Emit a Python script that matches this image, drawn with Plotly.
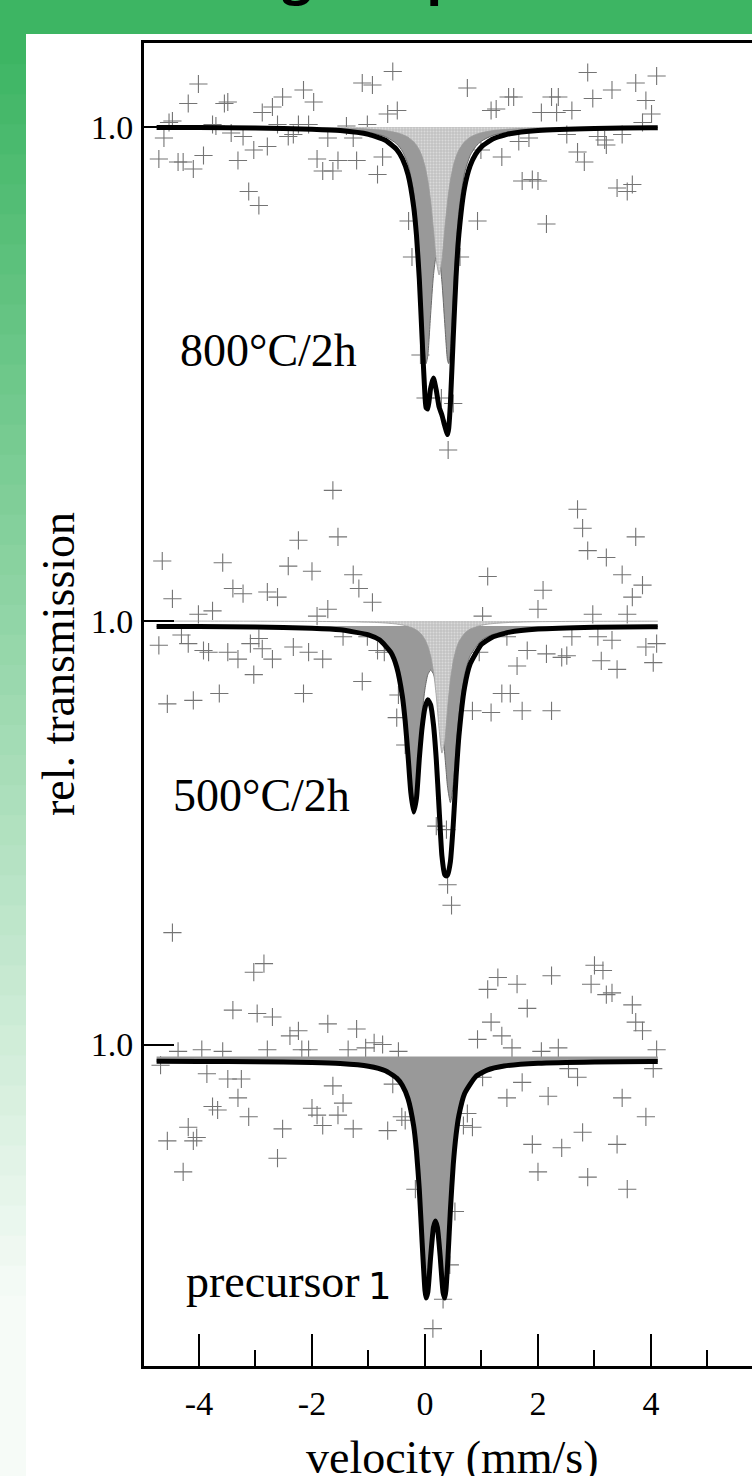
import plotly.graph_objects as go

# ---------------- data ----------------
# velocity grid of the fitted curves, mm/s
top_fit_v = [-4.75, -4.0, -3.0, -2.0, -1.5, -1.0, -0.7, -0.5, -0.4, -0.3, -0.2, -0.15, -0.1, -0.05,
             0.0, 0.02, 0.05, 0.1, 0.15, 0.2, 0.25, 0.3, 0.35, 0.4, 0.42, 0.45, 0.5, 0.55, 0.6,
             0.7, 0.8, 0.9, 1.0, 1.2, 1.5, 2.0, 3.0, 4.0, 4.12]
top_fit_total = [0.99992, 0.99988, 0.99980, 0.99956, 0.99928, 0.99852, 0.99734, 0.99548, 0.99366, 0.99048,
                 0.98404, 0.97828, 0.96954, 0.95752, 0.94618, 0.94384, 0.94360, 0.94776, 0.94978, 0.94736,
                 0.94400, 0.94238, 0.94022, 0.93848, 0.93972, 0.94472, 0.95788, 0.97002, 0.97852, 0.98786,
                 0.99226, 0.99462, 0.99604, 0.99760, 0.99864, 0.99930, 0.99972, 0.99984, 0.99986]
top_fit_doublet = [0.99994, 0.99992, 0.99986, 0.99970, 0.99949, 0.99895, 0.99806, 0.99662, 0.99516, 0.99252,
                   0.98700, 0.98192, 0.97414, 0.96344, 0.95402, 0.95268, 0.95426, 0.96256, 0.97028, 0.97400,
                   0.97360, 0.96902, 0.96072, 0.95328, 0.95268, 0.95538, 0.96572, 0.97594, 0.98312, 0.99082,
                   0.99430, 0.99612, 0.99718, 0.99832, 0.99906, 0.99952, 0.99981, 0.99990, 0.99990]
top_fit_singlet = [0.99998, 0.99996, 0.99994, 0.99987, 0.99978, 0.99958, 0.99928, 0.99886, 0.99850, 0.99796,
                   0.99704, 0.99636, 0.99540, 0.99408, 0.99216, 0.99116, 0.98934, 0.98520, 0.97950, 0.97336,
                   0.97040, 0.97336, 0.97950, 0.98520, 0.98704, 0.98934, 0.99216, 0.99408, 0.99540, 0.99704,
                   0.99796, 0.99850, 0.99886, 0.99928, 0.99958, 0.99978, 0.99991, 0.99995, 0.99996]

mid_fit_v = [-4.75, -4.0, -3.0, -2.0, -1.5, -1.0, -0.8, -0.6, -0.5, -0.4, -0.35, -0.3, -0.25, -0.2, -0.15,
             -0.1, -0.05, 0.0, 0.05, 0.1, 0.15, 0.2, 0.25, 0.3, 0.35, 0.375, 0.4, 0.45, 0.5, 0.55, 0.6,
             0.7, 0.8, 1.0, 1.2, 1.5, 2.0, 3.0, 4.0, 4.12]
mid_fit_total = [0.99892, 0.99889, 0.99880, 0.99856, 0.99823, 0.99724, 0.99618, 0.99364, 0.99076, 0.98494,
                 0.97994, 0.97310, 0.96566, 0.96180, 0.96460, 0.97250, 0.97876, 0.98268, 0.98426, 0.98322,
                 0.97932, 0.97230, 0.96248, 0.95298, 0.94924, 0.94902, 0.94924, 0.95188, 0.95922, 0.96876,
                 0.97688, 0.98670, 0.99142, 0.99532, 0.99680, 0.99778, 0.99838, 0.99875, 0.99887, 0.99887]
mid_fit_doublet = [0.99894, 0.99891, 0.99884, 0.99864, 0.99836, 0.99749, 0.99652, 0.99414, 0.99138, 0.98574,
                   0.98086, 0.97418, 0.96692, 0.96330, 0.96642, 0.97476, 0.98162, 0.98640, 0.98926, 0.99018,
                   0.98940, 0.98730, 0.98410, 0.97940, 0.97338, 0.96996, 0.96676, 0.96368, 0.96726, 0.97444,
                   0.98104, 0.98918, 0.99304, 0.99616, 0.99732, 0.99807, 0.99853, 0.99881, 0.99890, 0.99890]
mid_fit_singlet = [0.99998, 0.99998, 0.99996, 0.99992, 0.99987, 0.99976, 0.99967, 0.99951, 0.99938, 0.99920,
                   0.99908, 0.99892, 0.99874, 0.99850, 0.99818, 0.99774, 0.99714, 0.99628, 0.99500, 0.99304,
                   0.98992, 0.98500, 0.97838, 0.97358, 0.97586, 0.97906, 0.98248, 0.98820, 0.99196, 0.99432,
                   0.99584, 0.99752, 0.99838, 0.99916, 0.99948, 0.99971, 0.99986, 0.99994, 0.99997, 0.99997]

bot_fit_v = [-4.75, -4.0, -3.0, -2.0, -1.5, -1.0, -0.7, -0.5, -0.4, -0.3, -0.2, -0.15, -0.1, -0.05,
             0.0, 0.02, 0.05, 0.1, 0.15, 0.185, 0.22, 0.27, 0.3, 0.32, 0.35, 0.37, 0.4, 0.45, 0.5, 0.55,
             0.6, 0.7, 0.9, 1.1, 1.4, 2.0, 3.0, 4.0, 4.12]
bot_fit_total = [0.99664, 0.99662, 0.99656, 0.99640, 0.99619, 0.99565, 0.99475, 0.99328, 0.99182, 0.98916,
                 0.98366, 0.97862, 0.97090, 0.96032, 0.95080, 0.94928, 0.95042, 0.95750, 0.96338, 0.96468,
                 0.96338, 0.95750, 0.95288, 0.95042, 0.94928, 0.95080, 0.95592, 0.96694, 0.97592, 0.98190,
                 0.98580, 0.99016, 0.99360, 0.99488, 0.99570, 0.99626, 0.99652, 0.99660, 0.99661]

# measured points (crosses)
top_data_v = [-4.01, -4.19, -3.55, -3.49, -2.88, -2.70, -2.52, -2.15, -1.97, -1.11, -0.93, -0.57, -0.66, -0.49,
              0.75, 1.17, 1.26, 1.48, 1.57, 2.06, 2.24, 2.36, 2.33, 2.60, 2.88, 2.97, 3.31, 3.73, 3.91, 4.10,
              4.01, 3.85, -4.53, -4.47, -4.62, -3.76, -3.70, -3.43, -3.22, -2.61, -2.42, -2.33, -2.24, -2.06,
              -1.72, -1.39, -1.27, -1.02, 2.51, 3.06, 3.18, 3.49, 1.66, 1.84, -4.71, -4.37, -4.28, -4.10,
              -3.92, -3.31, -3.03, -2.79, -3.12, -2.94, -1.91, -1.81, -1.63, -1.54, -1.21, -0.84, -0.75,
              0.99, 1.36, 1.72, 1.90, 2.00, 2.15, 2.70, 2.82, 3.21, 3.40, 3.58, 3.67, -0.29, -0.23, 0.62,
              0.93, -0.08, 0.01, 0.29, 0.50, 0.41]
top_data_t = [1.0086, 1.0047, 1.0047, 1.0050, 1.0029, 1.0040, 1.0060, 1.0074, 1.0050, 1.0088, 1.0084, 1.0111,
              1.0026, 1.0033, 1.0078, 1.0033, 1.0036, 1.0060, 1.0060, 1.0029, 1.0060, 1.0060, 1.0029, 1.0033,
              1.0109, 1.0057, 1.0074, 1.0088, 1.0053, 1.0102, 1.0026, 1.0009, 1.0009, 1.0012, 0.9978, 1.0005,
              1.0002, 0.9988, 0.9981, 1.0005, 0.9981, 0.9985, 1.0005, 1.0005, 0.9978, 1.0002, 0.9978, 1.0005,
              0.9985, 0.9981, 0.9974, 0.9985, 0.9971, 0.9978, 0.9936, 0.9930, 0.9930, 0.9916, 0.9943, 0.9933,
              0.9954, 0.9961, 0.9871, 0.9843, 0.9936, 0.9912, 0.9912, 0.9933, 0.9933, 0.9905, 0.9940, 0.9954,
              0.9940, 0.9892, 0.9895, 0.9892, 0.9806, 0.9950, 0.9930, 0.9964, 0.9878, 0.9871, 0.9885, 0.9812,
              0.9740, 0.9740, 0.9812, 0.9544, 0.9458, 0.9458, 0.9447, 0.9354]

mid_data_v = [-1.63, 2.70, 2.79, -1.54, -2.24, 3.73, -4.65, -3.58, -2.42, -2.00, 2.88, 3.21, -1.27, -1.17,
              1.11, 3.49, 3.85, -3.40, -3.22, -2.79, -2.61, -4.47, -0.93, 2.09, 3.67, 2.00, -1.72, -1.91,
              -4.01, -3.76, 1.02, 2.97, 3.58, -4.31, -4.19, -4.71, -3.92, -3.83, -3.49, -3.31, -3.09, -2.94,
              -2.88, -2.70, -2.33, -2.06, -1.81, -1.45, -1.02, -0.84, -0.72, -3.03, -3.64, -4.10, -4.56,
              -2.15, -1.11, 0.96, 1.45, 1.81, 2.15, 2.42, 2.51, 2.60, 3.06, 3.31, 3.12, 3.40, 3.91, 4.10,
              4.04, 1.63, 1.36, 1.51, 0.84, 1.17, 1.72, 2.24, -0.50, -0.47, -0.35, 0.20, 0.38, 0.40, 0.47]
mid_data_t = [1.02612, 1.02234, 1.01856, 1.01682, 1.01614, 1.01682, 1.01200, 1.01166, 1.01098, 1.00994,
              1.01408, 1.01270, 1.00926, 1.00650, 1.00890, 1.00926, 1.00718, 1.00650, 1.00546, 1.00580,
              1.00478, 1.00444, 1.00374, 1.00616, 1.00478, 1.00236, 1.00236, 1.00098, 1.00134, 1.00202,
              1.00098, 1.00134, 1.00134, 0.99720, 0.99548, 0.99514, 0.99410, 0.99376, 0.99376, 0.99238,
              0.99548, 0.99650, 0.99444, 0.99238, 0.99480, 0.99376, 0.99238, 0.99686, 0.99686, 0.99410,
              0.99376, 0.98928, 0.98550, 0.98412, 0.98342, 0.98550, 0.98790, 0.99376, 0.99686, 0.99410,
              0.99342, 0.99272, 0.99306, 0.99686, 0.99686, 0.99616, 0.99204, 0.99032, 0.99480, 0.99548,
              0.99168, 0.99100, 0.98550, 0.98550, 0.98204, 0.98170, 0.98204, 0.98204, 0.98068, 0.98520,
              0.97520, 0.95898, 0.95828, 0.94726, 0.94314]

bot_data_v = [-4.47, -3.03, -2.85, 1.29, 1.11, 1.63, 2.24, 3.00, 3.15, 2.94, 3.21, 3.31, 1.81, 3.67, -3.40,
              -2.97, -2.70, -1.72, -1.21, -2.39, -2.24, 1.17, 0.93, 1.36, 1.54, 3.73, 3.85, 4.10, 2.06, 2.36,
              -4.37, -3.95, -3.58, -2.79, -2.18, -2.06, -1.36, -1.05, -0.90, -0.75, -0.47, -4.68, 2.54, 2.70,
              4.04, -3.86, -3.49, -3.25, -1.63, -0.57, 1.02, 1.72, -3.31, -3.76, -3.67, -3.12, -2.00, -1.45,
              -1.91, -1.54, -1.81, -1.27, -0.66, -0.41, -0.35, 0.75, 0.68, 0.84, 1.45, 2.18, 3.49, 3.91, 2.79,
              -4.19, -4.56, -4.10, -4.04, -2.52, -2.61, -4.28, 1.90, 2.42, 3.40, 2.00, 2.88, 3.58, -0.17, 0.53,
              0.44, 0.32, 0.14]
bot_data_t = [1.02238, 1.01446, 1.01618, 1.01340, 1.01102, 1.01206, 1.01376, 1.01584, 1.01480, 1.01206,
              1.00998, 1.01032, 1.00722, 1.00792, 1.00688, 1.00620, 1.00550, 1.00412, 1.00310, 1.00172,
              1.00274, 1.00448, 1.00102, 1.00172, 0.99932, 1.00448, 1.00274, 0.99896, 0.99862, 0.99932,
              0.99862, 0.99896, 0.99862, 0.99896, 0.99896, 0.99896, 0.99896, 0.99932, 1.00034, 1.00000,
              0.99862, 0.99586, 0.99518, 0.99346, 0.99518, 0.99414, 0.99310, 0.99310, 0.99172, 0.99208,
              0.99346, 0.99242, 0.98932, 0.98760, 0.98690, 0.98554, 0.98726, 0.98828, 0.98588, 0.98588,
              0.98380, 0.98312, 0.98278, 0.98554, 0.98484, 0.98620, 0.98380, 0.98346, 0.98932, 0.98966,
              0.98932, 0.98554, 0.98244, 0.98346, 0.98072, 0.98072, 0.98140, 0.98312, 0.97726, 0.97452,
              0.98002, 0.97934, 0.98002, 0.97452, 0.97348, 0.97106, 0.97106, 0.96660, 0.95592, 0.94904,
              0.94318]

# vertical offsets of the stacked spectra and the baselines of the filled sub-spectra
offset_top, offset_mid, offset_bot = 0.0, 0.0988, 0.1835
base_top_doublet, base_top_singlet = 1.0, 1.0
base_mid_doublet, base_mid_singlet = 0.999, 1.0
base_bot_doublet = 0.9976

sample_labels = ["800°C/2h", "500°C/2h", "precursor"]
compound_no = "1"
y_tick_text = "1.0"
x_major = [-4, -2, 0, 2, 4]
x_minor = [-3, -1, 1, 3, 5]

# ---------------- figure geometry ----------------
W, H = 752, 1476
ML, MT, MB = 144, 43, 110
PW, PH = W - ML, H - MT - MB


def px(xp):
    return (xp - ML) / PW


def py(yp):
    return (H - MB - yp) / PH


SERIF = "Liberation Serif"


def sh(vals, off):
    return [v - off for v in vals]


fig = go.Figure()

# crosses (drawn beneath the fits)
for v, t, off in [(top_data_v, top_data_t, offset_top),
                  (mid_data_v, mid_data_t, offset_mid),
                  (bot_data_v, bot_data_t, offset_bot)]:
    fig.add_trace(go.Scatter(x=v, y=sh(t, off), mode="markers",
                             marker=dict(symbol="cross-thin", size=13,
                                         line=dict(width=1.1, color="#747474")),
                             hoverinfo="skip"))


def add_fill(v, vals, base, off, kind):
    fig.add_trace(go.Scatter(x=[v[0], v[-1]], y=[base - off, base - off], mode="lines",
                             line=dict(width=0), hoverinfo="skip"))
    if kind == "gray":
        fig.add_trace(go.Scatter(x=v, y=sh(vals, off), mode="lines", fill="tonexty",
                                 fillcolor="#999999",
                                 line=dict(width=1, color="#6a6a6a", shape="spline", smoothing=0.6),
                                 hoverinfo="skip"))
    else:
        fig.add_trace(go.Scatter(x=v, y=sh(vals, off), mode="lines", fill="tonexty",
                                 fillcolor="#cccccc",
                                 fillpattern=dict(shape=".", fgcolor="#f2f2f2", bgcolor="#c2c2c2",
                                                  size=3, solidity=0.35),
                                 line=dict(width=0.8, color="#9a9a9a", shape="spline", smoothing=0.6),
                                 hoverinfo="skip"))


add_fill(top_fit_v, top_fit_doublet, base_top_doublet, offset_top, "gray")
add_fill(top_fit_v, top_fit_singlet, base_top_singlet, offset_top, "stipple")
add_fill(mid_fit_v, mid_fit_doublet, base_mid_doublet, offset_mid, "gray")
add_fill(mid_fit_v, mid_fit_singlet, base_mid_singlet, offset_mid, "stipple")
add_fill(bot_fit_v, bot_fit_total, base_bot_doublet, offset_bot, "gray")

for v, t, off in [(top_fit_v, top_fit_total, offset_top),
                  (mid_fit_v, mid_fit_total, offset_mid),
                  (bot_fit_v, bot_fit_total, offset_bot)]:
    fig.add_trace(go.Scatter(x=v, y=sh(t, off), mode="lines",
                             line=dict(color="black", width=5, shape="spline", smoothing=0.5),
                             hoverinfo="skip"))

# ---------------- background decoration ----------------
GREEN = (61, 181, 99)
PALE = (246, 251, 247)
shapes = [dict(type="rect", xref="paper", yref="paper", x0=px(-2), x1=px(W + 5),
               y0=py(34), y1=py(-5), fillcolor="rgb(61,181,99)", line=dict(width=0), layer="below")]
n = 48
for i in range(n):
    y0p = 34 + i * (H - 34) / n
    y1p = 34 + (i + 1) * (H - 34) / n
    f = min(1.0, (y0p - 34) / 1250.0)
    col = tuple(round(GREEN[k] + (PALE[k] - GREEN[k]) * f) for k in range(3))
    shapes.append(dict(type="rect", xref="paper", yref="paper", x0=px(-2), x1=px(26),
                       y0=py(y1p + 1), y1=py(y0p), fillcolor="rgb(%d,%d,%d)" % col,
                       line=dict(width=0), layer="below"))

annotations = [
    dict(text="Annealing the precursor", xref="paper", yref="paper", x=px(48), y=py(10),
         xanchor="left", yanchor="bottom", showarrow=False,
         font=dict(family="Open Sans", size=52, color="black", weight="bold")),
    dict(text="rel. transmission", xref="paper", yref="paper", x=px(58), y=py(664),
         xanchor="center", yanchor="middle", textangle=-90, showarrow=False,
         font=dict(family=SERIF, size=46, color="black")),
    dict(text="velocity (mm/s)", xref="paper", yref="paper", x=px(452), y=py(1457),
         xanchor="center", yanchor="middle", showarrow=False,
         font=dict(family=SERIF, size=46, color="black")),
    dict(text=sample_labels[0], xref="paper", yref="paper", x=px(178), y=py(350),
         xanchor="left", yanchor="middle", showarrow=False,
         font=dict(family=SERIF, size=46, color="black")),
    dict(text=sample_labels[1], xref="paper", yref="paper", x=px(171), y=py(795),
         xanchor="left", yanchor="middle", showarrow=False,
         font=dict(family=SERIF, size=46, color="black")),
    dict(text=sample_labels[2], xref="paper", yref="paper", x=px(184), y=py(1281),
         xanchor="left", yanchor="middle", showarrow=False,
         font=dict(family=SERIF, size=46, color="black")),
    dict(text=compound_no, xref="paper", yref="paper", x=px(366), y=py(1286),
         xanchor="left", yanchor="middle", showarrow=False,
         font=dict(family="DejaVu Sans", size=37, color="black")),
]

y_ticks = [1.0 - offset_top, 1.0 - offset_mid, 1.0 - offset_bot]

fig.update_layout(
    width=W, height=H, margin=dict(l=ML, r=0, t=MT, b=MB, pad=0),
    paper_bgcolor="white", plot_bgcolor="white", showlegend=False,
    shapes=shapes, annotations=annotations,
    xaxis=dict(range=[-4.973, 5.788], showline=True, linewidth=3, linecolor="black", mirror=True,
               ticks="inside", ticklen=32, tickwidth=2, tickcolor="black",
               tickvals=x_major, ticktext=[str(v) for v in x_major],
               tickfont=dict(family=SERIF, size=34, color="black"), ticklabelstandoff=5,
               minor=dict(ticks="inside", ticklen=16, tickwidth=2, tickcolor="black", tickvals=x_minor),
               showgrid=False, zeroline=False),
    yaxis=dict(range=[0.7522, 1.0168], showline=True, linewidth=3, linecolor="black", mirror=False,
               ticks="inside", ticklen=30, tickwidth=2, tickcolor="black",
               tickvals=y_ticks, ticktext=[y_tick_text] * 3,
               tickfont=dict(family=SERIF, size=34, color="black"), ticklabelstandoff=1,
               showgrid=False, zeroline=False),
)

# the page itself must not add a margin around the 752x1476 figure; no toolbar in the picture
fig.write_html("out.html", config={"displayModeBar": False},
               post_script="document.body.style.margin='0px';document.body.style.overflow='hidden';")
